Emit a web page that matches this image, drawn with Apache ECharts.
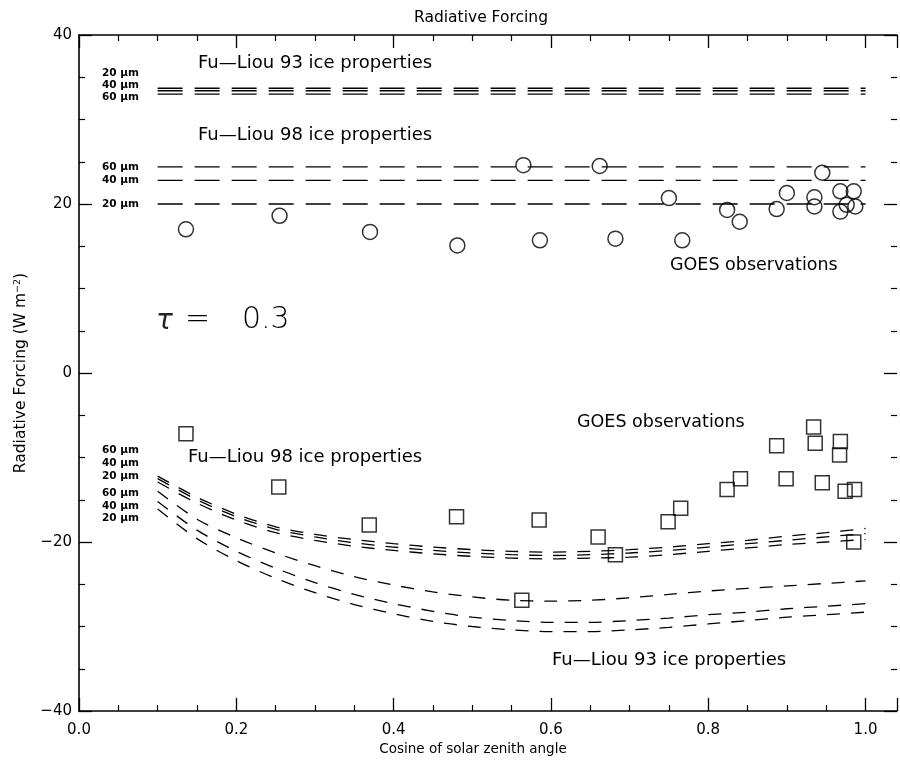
<!DOCTYPE html>
<html>
<head>
<meta charset="utf-8">
<script src="https://cdn.jsdelivr.net/npm/echarts@6/dist/echarts.min.js"></script>
<style>
html,body{margin:0;padding:0;background:#fff;}
#chart{width:900px;height:760px;}
</style>
</head>
<body>
<div id="chart"></div>
<script>
// ---- data ----
const xTickLabels = ['0.0','0.2','0.4','0.6','0.8','1.0'];
const yTickLabels = ['-40','-20','0','20','40'];

// flat model lines (x from 0.1 to 1.0)
const flatX = [0.1, 1.0];
const fl93_20 = 33.7, fl93_40 = 33.4, fl93_60 = 33.0;
const fl98_60 = 24.4, fl98_40 = 22.8, fl98_20 = 20.0;

// curved model lines (bottom)
const curveX = [0.10,0.15,0.20,0.25,0.30,0.35,0.40,0.45,0.50,0.55,0.60,0.65,0.70,0.75,0.80,0.85,0.90,0.95,1.00];
const c98_60 = [-12.2,-14.7,-16.7,-18.2,-19.1,-19.7,-20.2,-20.6,-20.9,-21.1,-21.2,-21.1,-20.9,-20.6,-20.2,-19.8,-19.3,-18.9,-18.4];
const c98_40 = [-12.5,-15.0,-17.0,-18.5,-19.4,-20.1,-20.6,-21.0,-21.3,-21.5,-21.6,-21.5,-21.3,-21.0,-20.6,-20.2,-19.8,-19.4,-19.0];
const c98_20 = [-12.9,-15.4,-17.4,-18.9,-19.8,-20.5,-21.0,-21.4,-21.7,-21.9,-22.0,-21.9,-21.8,-21.5,-21.1,-20.7,-20.3,-20.0,-19.7];
const c93_60 = [-14.0,-17.3,-19.5,-21.3,-22.8,-24.1,-25.1,-25.9,-26.5,-26.9,-27.0,-26.9,-26.6,-26.2,-25.8,-25.5,-25.2,-24.9,-24.6];
const c93_40 = [-15.2,-18.6,-21.1,-23.1,-24.8,-26.2,-27.3,-28.2,-28.9,-29.3,-29.5,-29.5,-29.3,-29.0,-28.6,-28.3,-27.9,-27.6,-27.3];
const c93_20 = [-16.1,-19.6,-22.2,-24.3,-26.0,-27.4,-28.5,-29.4,-30.0,-30.4,-30.6,-30.6,-30.4,-30.1,-29.7,-29.3,-28.9,-28.6,-28.3];

// GOES observations (top, circles)
const obsTopX = [0.136,0.255,0.370,0.481,0.565,0.586,0.662,0.682,0.750,0.767,0.824,0.840,0.887,0.900,0.935,0.935,0.945,0.968,0.968,0.985,0.976,0.987];
const obsTopY = [17.0,18.6,16.7,15.1,24.6,15.7,24.5,15.9,20.7,15.7,19.3,17.9,19.4,21.3,20.8,19.7,23.7,21.5,19.1,21.5,19.9,19.7];
// GOES observations (bottom, squares)
const obsBotX = [0.136,0.254,0.369,0.480,0.563,0.585,0.660,0.682,0.749,0.765,0.824,0.841,0.887,0.899,0.934,0.936,0.945,0.968,0.967,0.974,0.986,0.985];
const obsBotY = [-7.2,-13.5,-18.0,-17.0,-26.9,-17.4,-19.4,-21.5,-17.6,-16.0,-13.8,-12.5,-8.6,-12.5,-6.4,-8.3,-13.0,-8.1,-9.7,-14.0,-13.8,-20.0];

// ---- build ----
const zip = (xs, ys) => xs.map((x, i) => [x, ys[i]]);
const flat = v => flatX.map(x => [x, v]);

const chart = echarts.init(document.getElementById('chart'), null, {renderer: 'canvas'});
const FONT = '"DejaVu Sans", sans-serif';
const lineStyleFlat = {color: '#000', width: 1.3, type: [25, 12]};
const lineStyleCurve = {color: '#000', width: 1.3, type: [13, 11]};

function flatSeries(v){
  return {type: 'line', data: flat(v), showSymbol: false, symbol: 'none', lineStyle: lineStyleFlat, silent: true, z: 2};
}
function curveSeries(ys){
  return {type: 'line', data: zip(curveX, ys), showSymbol: false, symbol: 'none', smooth: 0.3, lineStyle: lineStyleCurve, silent: true, z: 2};
}

const axisLineStyle = {color: '#000', width: 1.6};
const baseX = {
  type: 'value', min: 0, max: 1.04, interval: 0.2,
  axisLine: {show: true, onZero: false, lineStyle: axisLineStyle},
  axisTick: {show: true, inside: true, length: 13, lineStyle: {color: '#000', width: 1.3}},
  minorTick: {show: true, splitNumber: 4, length: 6, lineStyle: {color: '#000', width: 1.2}},
  splitLine: {show: false}, minorSplitLine: {show: false}
};
const baseY = {
  type: 'value', min: -40, max: 40, interval: 20,
  axisLine: {show: true, onZero: false, lineStyle: axisLineStyle},
  axisTick: {show: true, inside: true, length: 13, lineStyle: {color: '#000', width: 1.3}},
  minorTick: {show: true, splitNumber: 4, length: 6, lineStyle: {color: '#000', width: 1.2}},
  splitLine: {show: false}, minorSplitLine: {show: false}
};

function txt(text, x, y, size, opts){
  opts = opts || {};
  return {
    type: 'text', x: x, y: y, silent: true, z: 10,
    style: {
      text: text, fill: opts.fill || '#000',
      font: (opts.style ? opts.style + ' ' : '') + (opts.weight || 'normal') + ' ' + size + 'px ' + FONT,
      textAlign: opts.align || 'left', align: opts.align || 'left',
      textVerticalAlign: 'middle', verticalAlign: 'middle'
    }
  };
}

const option = {
  backgroundColor: '#fff',
  animation: false,
  grid: {left: 79, top: 35, width: 820, height: 676, containLabel: false},
  xAxis: [
    Object.assign({}, baseX, {
      position: 'bottom',
      axisLabel: {show: true, margin: 12, color: '#000', fontSize: 15, fontFamily: FONT,
        formatter: v => { const s = v.toFixed(1); return xTickLabels.indexOf(s) >= 0 && Math.abs(v*5 - Math.round(v*5)) < 1e-6 ? s : ''; }}
    }),
    Object.assign({}, baseX, {position: 'top', axisLabel: {show: false}})
  ],
  yAxis: [
    Object.assign({}, baseY, {
      position: 'left',
      axisLabel: {show: true, margin: 7, color: '#000', fontSize: 15, fontFamily: FONT,
        formatter: v => { const s = String(Math.round(v)); return yTickLabels.indexOf(s) >= 0 ? s.replace('-', '\u2212') : ''; }},
      name: 'Radiative Forcing (W m{sup|\u22122})', nameLocation: 'middle', nameGap: 48,
      nameTextStyle: {color: '#000', fontSize: 15.5, fontFamily: FONT,
        rich: {sup: {fontSize: 9.5, fontFamily: FONT, color: '#000', verticalAlign: 'top', padding: [0, 0, 8, 0]}}}
    }),
    Object.assign({}, baseY, {position: 'right', axisLabel: {show: false},
      axisLine: {show: false, onZero: false}})
  ],
  series: [
    flatSeries(fl93_20), flatSeries(fl93_40), flatSeries(fl93_60),
    flatSeries(fl98_60), flatSeries(fl98_40), flatSeries(fl98_20),
    curveSeries(c98_60), curveSeries(c98_40), curveSeries(c98_20),
    curveSeries(c93_60), curveSeries(c93_40), curveSeries(c93_20),
    {type: 'scatter', data: zip(obsTopX, obsTopY), symbol: 'circle', symbolSize: 15,
      itemStyle: {color: 'rgba(0,0,0,0)', borderColor: '#000', borderWidth: 1.5}, silent: true, z: 5},
    {type: 'scatter', data: zip(obsBotX, obsBotY), symbol: 'rect', symbolSize: 14,
      itemStyle: {color: 'rgba(0,0,0,0)', borderColor: '#000', borderWidth: 1.5}, silent: true, z: 5}
  ],
  graphic: [
    txt('Radiative Forcing', 481, 18, 15.5, {align: 'center'}),
    txt('Cosine of solar zenith angle', 473, 749, 13.5, {align: 'center'}),
    txt('Fu\u2014Liou 93 ice properties', 198, 63, 18),
    txt('Fu\u2014Liou 98 ice properties', 198, 135, 18),
    txt('GOES observations', 670, 265, 17.5),
    txt('GOES observations', 577, 422, 17.5),
    txt('Fu\u2014Liou 98 ice properties', 188, 457, 18),
    txt('Fu\u2014Liou 93 ice properties', 552, 660, 18),
    txt('\u03c4', 156, 322, 28, {style: 'italic', weight: 200, fill: '#222'}),
    txt('=', 185, 320, 30, {weight: 200}),
    txt('0.3', 242, 320, 30, {weight: 200}),
    txt('20 \u03bcm', 102, 73, 10.5, {weight: 'bold'}),
    txt('40 \u03bcm', 102, 85, 10.5, {weight: 'bold'}),
    txt('60 \u03bcm', 102, 97, 10.5, {weight: 'bold'}),
    txt('60 \u03bcm', 102, 167, 10.5, {weight: 'bold'}),
    txt('40 \u03bcm', 102, 180, 10.5, {weight: 'bold'}),
    txt('20 \u03bcm', 102, 204, 10.5, {weight: 'bold'}),
    txt('60 \u03bcm', 102, 450, 10.5, {weight: 'bold'}),
    txt('40 \u03bcm', 102, 463, 10.5, {weight: 'bold'}),
    txt('20 \u03bcm', 102, 476, 10.5, {weight: 'bold'}),
    txt('60 \u03bcm', 102, 493, 10.5, {weight: 'bold'}),
    txt('40 \u03bcm', 102, 506, 10.5, {weight: 'bold'}),
    txt('20 \u03bcm', 102, 518, 10.5, {weight: 'bold'})
  ]
};
chart.setOption(option);
</script>
</body>
</html>
